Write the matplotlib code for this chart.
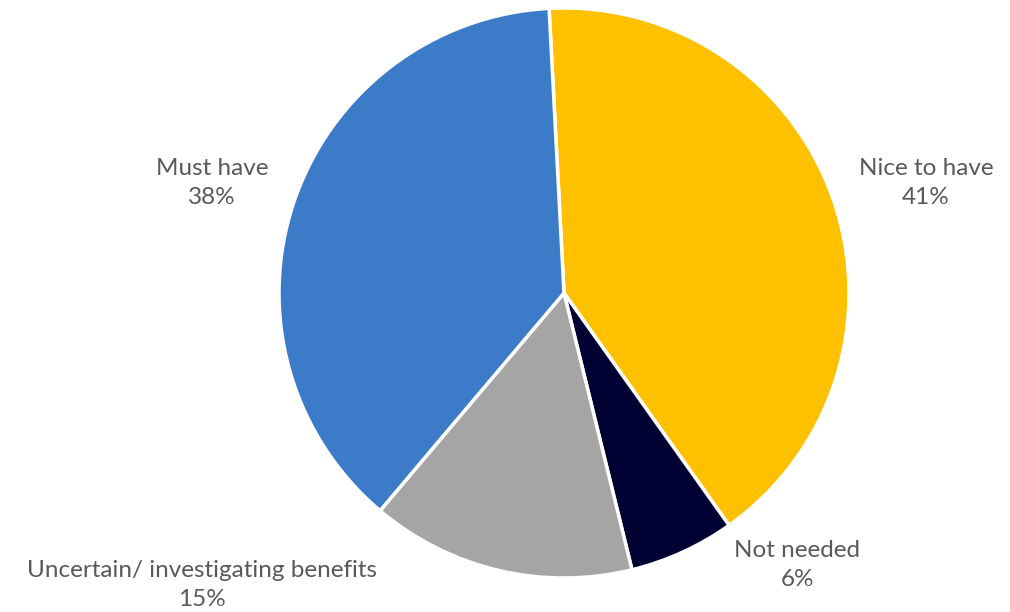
import matplotlib
matplotlib.use("Agg")
import matplotlib.pyplot as plt

# survey answers, clockwise from the top
labels = ["Nice to have", "Not needed", "Uncertain/ investigating benefits", "Must have"]
shares = [41, 6, 15, 38]
colors = ["#FFC000", "#000033", "#A5A5A5", "#3C7BC8"]

# label positions (data coords, pie radius = 1)
label_xy = [(1.27, 0.386), (0.818, -0.954), (-1.27, -1.025), (-1.235, 0.386)]

fig = plt.figure(figsize=(10.1, 6.12), dpi=100)
ax = fig.add_axes([279 / 1010, 34 / 612, 570 / 1010, 570 / 612])

ax.pie(shares, colors=colors, startangle=93, counterclock=False,
       radius=1, center=(0, 0),
       wedgeprops=dict(edgecolor="white", linewidth=2.5))

for name, val, (x, y) in zip(labels, shares, label_xy):
    ax.text(x, y, f"{name}\n{val}%", ha="center", va="center",
            fontsize=17.5, color="#595959", family=["Lato", "DejaVu Sans"],
            linespacing=1.45)

ax.set_xlim(-1, 1)
ax.set_ylim(-1, 1)
ax.set_aspect("equal")
ax.axis("off")

fig.savefig("out.png", dpi=100)
